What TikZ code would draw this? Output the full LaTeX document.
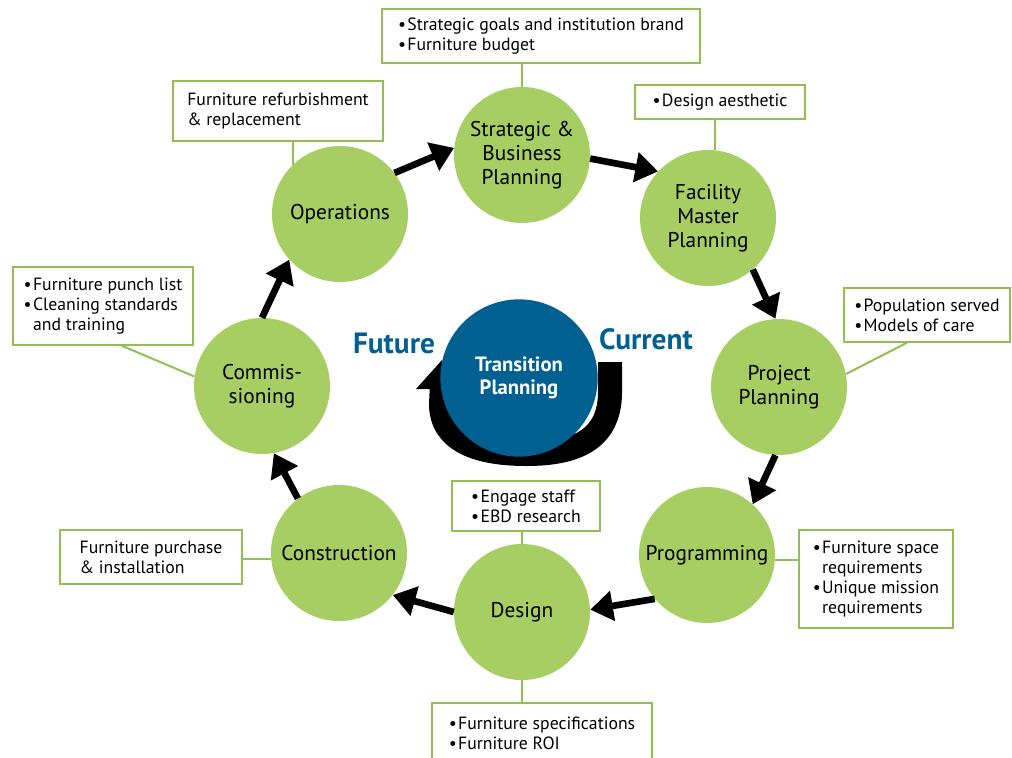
\documentclass[tikz,border=0pt]{standalone}
\usepackage{fontspec}
\setmainfont{PT Sans}
\usepackage{xcolor}
\usetikzlibrary{arrows.meta}
\usetikzlibrary{positioning}
\definecolor{leaf}{RGB}{166,206,99}
\definecolor{leafline}{RGB}{146,190,84}
\definecolor{deepblue}{RGB}{0,96,145}
\newcommand{\circfont}{\fontsize{16}{18}\selectfont}
\newcommand{\notefont}{\fontsize{13.3}{15}\selectfont}
\newcommand{\bul}{\textbullet\kern1pt}
\newcommand{\nobul}{\hphantom{\textbullet\kern1pt}}

\begin{document}
\begin{tikzpicture}[x=0.75pt,y=-0.75pt,
	phase/.style={circle, fill=leaf, minimum size=102pt, inner sep=0pt, align=center, font=\circfont},
	note/.style={draw=leafline, line width=1.5pt, fill=white, align=left, inner sep=0pt, font=\notefont},
	link/.style={draw=leafline, line width=1.5pt},
	flow/.style={line width=5pt, -{Triangle[length=17pt,width=22pt]}},
	side/.style={text=deepblue, font=\bfseries\fontsize{22}{26}\selectfont}]
				% page frame
				\clip (0,0) rectangle (1012,757);
				% centre: transition loop
				\draw[line width=18pt] (610,362) -- (610,392) .. controls (610,442) and (572,454) .. (526,454) .. controls (480,454) and (441,442) .. (441,404) -- (442,384);
				\fill (416,389) -- (469,389) -- (442,360) -- cycle;
				\node[circle, fill=deepblue, minimum size=118pt, inner sep=0pt, text=white, align=center, font=\bfseries\fontsize{15.5}{17}\selectfont] (trans) at (519,378) {Transition\\Planning};
				\node[side] (future) at (394,343) {Future};
				\node[side] (current) at (646,339) {Current};
				
				% phases
				\node[phase] (sbp) at (522,155) {Strategic \&\\Business\\Planning};
				\node[phase] (fmp) at (708,218) {Facility\\Master\\Planning};
				\node[phase] (pp) at (779,387) {Project\\Planning};
				\node[phase] (prog) at (707,555) {Programming};
				\node[phase] (des) at (522,612) {Design};
				\node[phase] (cons) at (339,553) {Construction};
				\node[phase] (com) at (262,386) {Commis-\\sioning};
				\node[phase] (ops) at (340,214) {Operations};
				
				% notes
				\node[note, minimum width=238pt, minimum height=40pt] (sbpnote) at (541,36) {\bul Strategic goals and institution brand\\\bul Furniture budget};
				\node[note, minimum width=128pt, minimum height=26pt] (fmpnote) at (720,102) {\bul Design aesthetic};
				\node[note, minimum width=125pt, minimum height=40pt] (ppnote) at (927,315) {\bul Population served\\\bul Models of care};
				\node[note, minimum width=116pt, minimum height=74pt] (prognote) at (876,579) {\bul Furniture space\\\nobul requirements\\\bul Unique mission\\\nobul requirements};
				\node[note, minimum width=111pt, minimum height=38pt] (desnote) at (526,506) {\bul Engage staff\\\bul EBD research};
				\node[note, minimum width=165pt, minimum height=45pt] (roinote) at (542,733) {\bul Furniture specifications\\\bul Furniture ROI};
				\node[note, minimum width=136pt, minimum height=40pt] (consnote) at (151,557) {Furniture purchase\\\& installation};
				\node[note, minimum width=135pt, minimum height=58pt] (comnote) at (103,306) {\bul Furniture punch list\\\bul Cleaning standards\\\nobul and training};
				\node[note, minimum width=157pt, minimum height=45pt] (opsnote) at (278,111) {Furniture refurbishment\\\& replacement};
				
				% note links
				\draw[link] (sbp.north) -- (sbp.north |- sbpnote.south);
				\draw[link] (fmp.84) -- (fmp.84 |- fmpnote.south);
				\draw[link] (pp.11) -- ([xshift=-15pt]ppnote.south);
				\draw[link] (prog.-4) -- (prog.-4 -| prognote.west);
				\draw[link] (des.north) -- (des.north |- desnote.south);
				\draw[link] (des.south) -- (des.south |- roinote.north);
				\draw[link] (cons.185) -- (cons.185 -| consnote.east);
				\draw[link] (com.172) -- ([xshift=14pt]comnote.south);
				\draw[link] (ops.134) -- (ops.134 |- opsnote.south);
				
				% cycle arrows
				\draw[flow] (ops.37) -- (sbp.174);
				\draw[flow] (sbp.-3) -- (fmp.137);
				\draw[flow] (fmp.-49) -- (pp.93);
				\draw[flow] (pp.-93) -- (prog.48);
				\draw[flow] (prog.220) -- (des.2);
				\draw[flow] (des.180) -- (cons.-38);
				\draw[flow] (cons.127) -- (com.-80);
				\draw[flow] (com.90) -- (ops.222);
\end{tikzpicture}
\end{document}
